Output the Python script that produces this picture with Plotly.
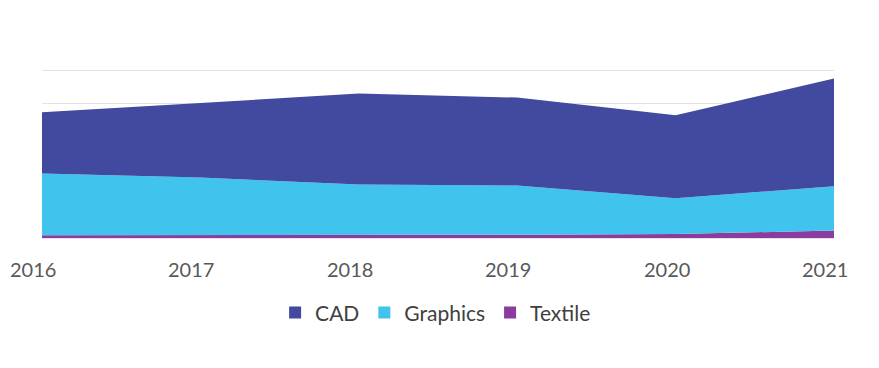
import plotly.graph_objects as go

years = ["2016", "2017", "2018", "2019", "2020", "2021"]
cad = [182, 223, 271, 262, 247, 321]
graphics = [184, 172, 150, 146, 106, 132]
textile = [8, 8, 9, 10, 12, 22]

colors = {"CAD": "#414a9e", "Graphics": "#40c4ee", "Textile": "#8b3c9e"}

fig = go.Figure()
for name, vals in [("Textile", textile), ("Graphics", graphics), ("CAD", cad)]:
    col = colors[name]
    fig.add_trace(go.Scatter(
        x=years, y=vals, name=name, mode="lines", stackgroup="one",
        line=dict(width=0, color=col), fillcolor=col, showlegend=False,
    ))

# legend-only square markers
for name in ["CAD", "Graphics", "Textile"]:
    fig.add_trace(go.Scatter(
        x=[None], y=[None], name=name, mode="markers",
        marker=dict(symbol="square", size=12, color=colors[name]),
    ))

# category labels (slightly offset to the left, as in the reference)
for i, yr in enumerate(years):
    fig.add_annotation(x=i, y=0, xref="x", yref="paper", text=yr, showarrow=False,
                       xanchor="center", yanchor="middle", xshift=-9, yshift=-31,
                       font=dict(family="Lato", size=20, color="#595959"))

fig.update_layout(
    width=871, height=360,
    margin=dict(l=34, r=45, t=60, b=130),
    paper_bgcolor="white", plot_bgcolor="white",
    font=dict(family="Lato", color="#595959"),
    showlegend=True,
    legend=dict(orientation="h", x=0.497, xanchor="center", y=-0.32, yanchor="top",
                traceorder="normal",
                font=dict(size=21, color="#404040"), itemwidth=30),
    xaxis=dict(type="category", range=[0, 5], showgrid=False, zeroline=False,
               showline=True, linecolor="#e8dfe8", linewidth=1,
               showticklabels=False),
    yaxis=dict(range=[0, 506], dtick=100, showgrid=True, gridcolor="#e3e3e3",
               gridwidth=1, showticklabels=False, zeroline=False),
)

fig.write_html("out.html")
